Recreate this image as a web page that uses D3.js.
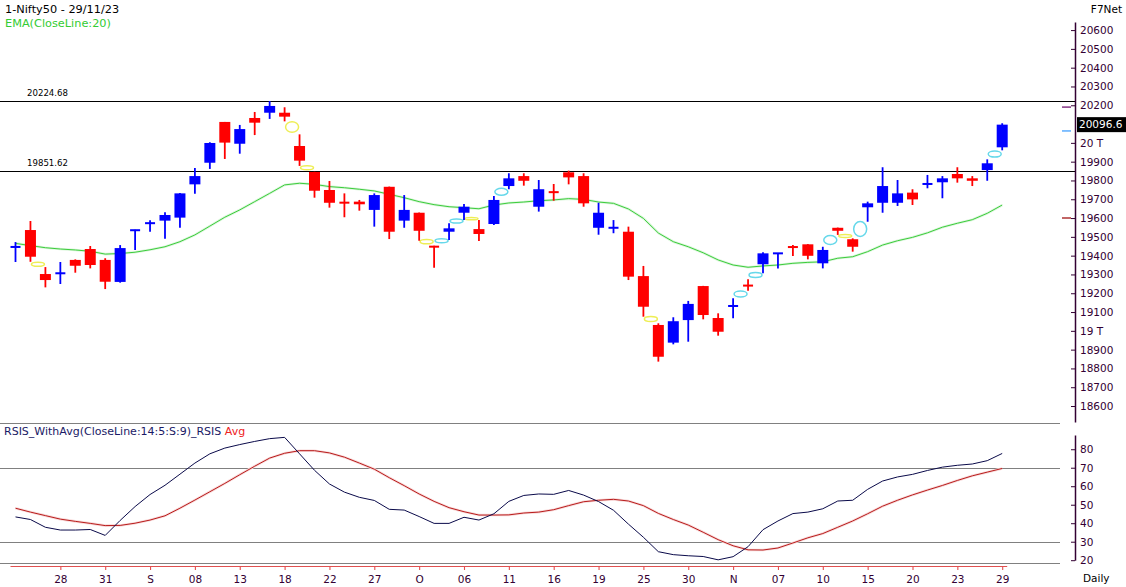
<!DOCTYPE html>
<html><head><meta charset="utf-8">
<script src="https://cdn.jsdelivr.net/npm/d3@7"></script>
<style>
body{margin:0;background:#fff;}
svg{display:block;font-family:"DejaVu Sans",Verdana,sans-serif;}
</style>
</head><body>
<svg id="c" width="1126" height="587"></svg>
<script>
// ---------------- DATA ----------------
const dates = ["23/08","24/08","25/08","28/08","29/08","30/08","31/08","01/09","04/09","05/09",
"06/09","07/09","08/09","11/09","12/09","13/09","14/09","15/09","18/09","20/09",
"21/09","22/09","25/09","26/09","27/09","28/09","29/09","03/10","04/10","05/10",
"06/10","09/10","10/10","11/10","12/10","13/10","16/10","17/10","18/10","19/10",
"20/10","23/10","25/10","26/10","27/10","30/10","31/10","01/11","02/11","03/11",
"06/11","07/11","08/11","09/11","10/11","12/11","13/11","15/11","16/11","17/11",
"20/11","21/11","22/11","23/11","24/11","28/11","29/11"];

const opens  = [19445,19536,19302,19305,19377,19435,19377,19260,19534,19568,
19586,19602,19779,19894,20111,19995,20132,20160,20160,19983,
19845,19749,19683,19687,19643,19766,19586,19628,19451,19527,
19628,19541,19568,19770,19823,19660,19739,19843,19823,19548,
19547,19527,19291,19031,18937,19057,19238,19068,19131,19242,
19354,19411,19447,19460,19359,19548,19487,19657,19681,19681,
19735,19780,19790,19834,19811,19855,19976];
const highs  = [19472,19584,19339,19366,19380,19451,19386,19456,19537,19588,
19630,19733,19866,20003,20111,20095,20164,20222,20189,20045,
19846,19797,19731,19696,19731,19767,19722,19629,19452,19572,
19674,19589,19717,19838,19838,19802,19781,19852,19838,19681,
19589,19554,19345,19040,19072,19159,19239,19093,19173,19274,
19418,19413,19456,19461,19447,19549,19492,19687,19870,19802,
19753,19829,19823,19870,19823,19912,20104];
const lows   = [19366,19367,19231,19249,19309,19332,19222,19256,19430,19527,
19490,19548,19729,19861,19914,19942,20041,20127,20114,19877,
19708,19655,19604,19639,19554,19488,19548,19479,19336,19483,
19589,19478,19563,19753,19772,19634,19692,19779,19660,19511,
19519,19270,19075,18836,18928,18942,19061,18974,19067,19213,
19306,19332,19398,19380,19332,19510,19421,19580,19628,19664,
19669,19758,19705,19788,19770,19798,19960];
const closes = [19447,19394,19270,19307,19346,19350,19261,19440,19536,19577,
19616,19731,19823,19999,20001,20073,20107,20196,20139,19905,
19745,19681,19680,19673,19722,19527,19643,19532,19444,19545,
19660,19515,19696,19811,19798,19753,19736,19816,19678,19628,
19549,19288,19128,18862,19051,19143,19084,18995,19133,19239,
19412,19413,19444,19399,19430,19532,19447,19678,19770,19731,
19699,19782,19811,19811,19798,19891,20096.6];

const ema20 = [19465,19453,19442,19435,19430,19423,19408,19411,19418,19431,
19447,19474,19510,19557,19604,19643,19687,19731,19776,19785,
19779,19767,19761,19753,19744,19726,19708,19687,19671,19660,
19655,19649,19669,19680,19685,19692,19696,19703,19699,19685,
19678,19648,19598,19520,19474,19447,19415,19377,19350,19338,
19345,19350,19359,19364,19367,19386,19394,19421,19456,19479,
19497,19521,19551,19572,19591,19625,19669];

const rsiValues = [43.4,42.0,37.8,36.3,36.3,36.6,33.4,41.5,49.0,55.5,
60.5,66.5,72.5,77.5,80.6,82.5,84.2,85.7,86.4,77.5,
68.6,61.2,56.8,54.0,52.3,47.5,47.1,43.6,39.9,39.9,
43.2,41.7,45.1,51.8,55.0,55.8,55.6,57.7,55.2,51.7,
47.0,39.5,32.4,24.6,23.0,22.4,22.0,20.2,21.9,27.3,
36.5,41.2,45.2,46.0,47.8,52.0,52.4,58.3,62.8,65.0,
66.4,68.5,70.3,71.3,72.0,73.8,77.7];
const rsiAvg = [48.1,46.0,44.1,42.2,41.0,39.9,38.7,38.8,40.0,41.7,
44.0,48.1,52.5,57.0,61.5,66.2,70.8,75.2,77.8,79.2,
79.2,78.0,75.7,72.5,69.2,64.6,60.3,55.8,51.8,48.4,
46.2,44.4,44.4,44.5,45.5,46.0,47.3,49.5,51.6,52.4,
52.9,52.0,49.5,45.3,42.0,39.0,35.1,31.1,27.8,25.6,
25.5,26.6,29.3,32.1,34.4,37.8,41.2,45.1,49.2,52.4,
55.3,57.9,60.4,63.1,65.6,67.6,69.6];

// gap markers: after candle index, upper / lower price of the gap, up or down
const gapAfter = [1,18,19,27,28,29,30,32,42,48,49,54,55,56,65];
const gapHi    = [19365,20112,19878,19485,19490,19595,19602,19758,19076,19212,19310,19507,19512,19581,19956];
const gapLo    = [19343,20056,19857,19463,19469,19573,19591,19721,19049,19180,19284,19459,19496,19502,19924];
const gapUp    = [false,false,false,false,true,true,false,true,false,true,true,true,false,true,true];

const levelValues = [20224.68, 19851.62];
const levelLabels = ["20224.68", "19851.62"];

const priceTicks = [18600,18700,18800,18900,19000,19100,19200,19300,19400,19500,19600,19700,19800,19900,20000,20200,20300,20400,20500,20600];
const priceTickLabels = ["18600","18700","18800","18900","19 T","19100","19200","19300","19400","19500","19600","19700","19800","19900","20 T","20200","20300","20400","20500","20600"];
const rsiTicks = [20,30,40,50,60,70,80];
const rsiLevels = [70,30];
const xTickIndex = [3,6,9,12,15,18,21,24,27,30,33,36,39,42,45,48,51,54,57,60,63,66];
const xTickLabels = ["28","31","S","08","13","18","22","27","O","06","11","16","19","25","30","N","07","10","15","20","23","29"];
const axisMarkPrices = [20190, 20063, 19600];
const lastPrice = 20096.6;

// ---------------- LAYOUT ----------------
const W = 1126, H = 587;
const axisX = 1075;
const pricePanel = {top: 22, bottom: 422};
const rsiPanel = {top: 423, bottom: 563};
const svg = d3.select("#c");

const x = d3.scalePoint().domain(dates).range([15.5, 1002.2]);
const y = d3.scaleLinear().domain([18600, 20600]).range([406, 30]);
const yr = d3.scaleLinear().domain([30, 70]).range([541.7, 467.7]);

const axisColor = "#330033";

// header texts
svg.append("text").attr("x",5).attr("y",12.5).attr("font-size","11.3px").attr("fill","#000").text("1-Nifty50 - 29/11/23");
svg.append("text").attr("x",5).attr("y",27).attr("font-size","11.3px").attr("fill","#33cc33").text("EMA(CloseLine:20)");
svg.append("text").attr("x",1122).attr("y",12.5).attr("text-anchor","end").attr("font-size","10.5px").attr("fill","#000").text("F7Net");

// level lines
levelValues.forEach((v,k)=>{
  svg.append("line").attr("x1",0).attr("x2",axisX).attr("y1",Math.round(y(v))+0.5).attr("y2",Math.round(y(v))+0.5)
    .attr("stroke","#000").attr("stroke-width",1.1);
  svg.append("text").attr("x",27).attr("y",y(v)-5).attr("font-size","8.6px").attr("fill","#000").text(levelLabels[k]);
});

// EMA line with faint glow
const emaLine = d3.line().x((d,i)=>x(dates[i])).y(d=>y(d));
svg.append("path").datum(ema20).attr("d",emaLine).attr("fill","none").attr("stroke","#dcf6dc").attr("stroke-width",2.6);
svg.append("path").datum(ema20).attr("d",emaLine).attr("fill","none").attr("stroke","#3ccc3c").attr("stroke-width",1);

// gap ellipses
gapAfter.forEach((g,k)=>{
  const cx = (x(dates[g]) + x(dates[g+1]))/2;
  const y1 = y(gapHi[k]), y2 = y(gapLo[k]);
  svg.append("ellipse").attr("cx",cx).attr("cy",(y1+y2)/2).attr("rx",6.5).attr("ry",Math.max(1.2,(y2-y1)/2))
    .attr("fill","none").attr("stroke", gapUp[k] ? "#66d8ea" : "#eeee55").attr("stroke-width",1.5);
});

// candles
const candles = svg.append("g");
dates.forEach((d,i)=>{
  const o=opens[i], c=closes[i], h=highs[i], l=lows[i];
  const up = c >= o;
  const col = up ? "#0000ff" : "#ff0000";
  const cx = x(d);
  candles.append("line").attr("x1",cx).attr("x2",cx).attr("y1",y(h)).attr("y2",y(l)).attr("stroke",col).attr("stroke-width",1.8);
  const top = y(Math.max(o,c)), bot = y(Math.min(o,c));
  const bh = Math.max(2, bot-top);
  const bw = (bot-top) < 2 ? 10 : 11;
  candles.append("rect").attr("x",cx-bw/2).attr("y",(top+bot)/2 - bh/2).attr("width",bw).attr("height",bh).attr("fill",col);
});

// price axis
const priceAxisScale = d3.scaleLinear().domain([18515, 20643]).range([pricePanel.bottom, pricePanel.top]);
const pAxis = d3.axisRight(priceAxisScale).tickValues(priceTicks)
  .tickFormat(t=>priceTickLabels[priceTicks.indexOf(t)]).tickSizeInner(-4).tickSizeOuter(0).tickPadding(5);
const pg = svg.append("g").attr("transform",`translate(${axisX},0)`).call(pAxis);
pg.select(".domain").attr("stroke",axisColor).attr("stroke-width",1.5);
pg.selectAll(".tick line").attr("stroke",axisColor);
pg.selectAll(".tick text").attr("fill",axisColor).attr("font-size","10.5px").attr("font-family","DejaVu Sans, Verdana, sans-serif");

// last price box
const lp = y(lastPrice);
svg.append("rect").attr("x",axisX+2).attr("y",lp-7.5).attr("width",W-axisX-2).attr("height",15).attr("fill","#000");
svg.append("text").attr("x",axisX+4).attr("y",lp).attr("dy","0.35em").attr("font-size","10.5px").attr("fill","#fff").text(lastPrice.toFixed(1));

// small markers left of axis
const markColors = ["#660066","#3399ff","#990000"];
axisMarkPrices.forEach((p,k)=>{
  svg.append("line").attr("x1",1062).attr("x2",1071).attr("y1",y(p)).attr("y2",y(p)).attr("stroke",markColors[k]).attr("stroke-width",1.2);
});

// panel separator lines
svg.append("line").attr("x1",0).attr("x2",1060).attr("y1",rsiPanel.top+0.5).attr("y2",rsiPanel.top+0.5).attr("stroke","#808080").attr("stroke-width",1.1);
svg.append("line").attr("x1",0).attr("x2",1060).attr("y1",rsiPanel.bottom+0.5).attr("y2",rsiPanel.bottom+0.5).attr("stroke","#808080").attr("stroke-width",1.1);
rsiLevels.forEach(v=>{
  svg.append("line").attr("x1",0).attr("x2",1060).attr("y1",Math.round(yr(v))+0.5).attr("y2",Math.round(yr(v))+0.5).attr("stroke","#808080").attr("stroke-width",1.1);
});

// RSI label
const rl = svg.append("text").attr("x",4).attr("y",434.5).attr("font-size","11px");
rl.append("tspan").attr("fill","#1a1a66").text("RSIS_WithAvg(CloseLine:14:5:S:9)_RSIS ");
rl.append("tspan").attr("fill","#ee2222").text("Avg");

// RSI lines
const rLine = d3.line().x((d,i)=>x(dates[i])).y(d=>yr(d));
svg.append("path").datum(rsiAvg).attr("d",rLine).attr("fill","none").attr("stroke","#f8dada").attr("stroke-width",2.6);
svg.append("path").datum(rsiAvg).attr("d",rLine).attr("fill","none").attr("stroke","#b81c1c").attr("stroke-width",1);
svg.append("path").datum(rsiValues).attr("d",rLine).attr("fill","none").attr("stroke","#0a0a4a").attr("stroke-width",1);

// RSI axis
const rsiAxisScale = d3.scaleLinear().domain([20, 87.7]).range([560.2, 435]);
const rAxis = d3.axisRight(rsiAxisScale).tickValues(rsiTicks).tickSizeInner(-4).tickSizeOuter(0).tickPadding(5);
const rg = svg.append("g").attr("transform",`translate(${axisX},0)`).call(rAxis);
rg.select(".domain").attr("stroke",axisColor).attr("stroke-width",1.5);
rg.selectAll(".tick line").attr("stroke",axisColor);
rg.selectAll(".tick text").attr("fill",axisColor).attr("font-size","10.5px").attr("font-family","DejaVu Sans, Verdana, sans-serif");

// x axis
const xAxisY = 566;
svg.append("line").attr("x1",x(dates[0])-5).attr("x2",x(dates[dates.length-1])+5).attr("y1",xAxisY+0.5).attr("y2",xAxisY+0.5).attr("stroke","#e05050").attr("stroke-width",1.1);
const xAxis = d3.axisBottom(x).tickValues(xTickIndex.map(i=>dates[i])).tickFormat((d)=>xTickLabels[xTickIndex.indexOf(dates.indexOf(d))])
  .tickSizeInner(4).tickSizeOuter(0).tickPadding(6);
const xg = svg.append("g").attr("transform",`translate(0,${xAxisY})`).call(xAxis);
xg.select(".domain").remove();
xg.selectAll(".tick line").attr("stroke","#e05050").attr("stroke-width",1.1);
xg.selectAll(".tick text").attr("fill",axisColor).attr("font-size","10.5px").attr("font-family","DejaVu Sans, Verdana, sans-serif");
svg.append("text").attr("x",1083).attr("y",582).attr("font-size","10.5px").attr("fill","#000").text("Daily");
</script>
</body></html>
